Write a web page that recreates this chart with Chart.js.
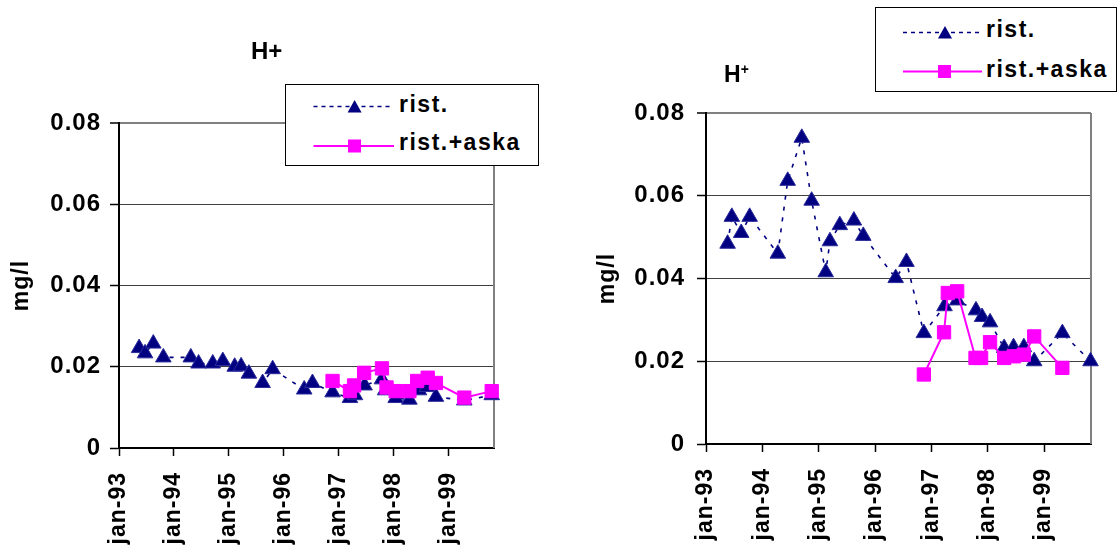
<!DOCTYPE html>
<html><head><meta charset="utf-8">
<script src="https://cdn.jsdelivr.net/npm/chart.js@4.4.1/dist/chart.umd.min.js"></script>
<style>
html,body{margin:0;padding:0;background:#fff;}
body{width:1118px;height:545px;position:relative;overflow:hidden;font-family:"Liberation Sans",Arial,sans-serif;}
canvas{position:absolute;top:0;}
.title{position:absolute;font-weight:bold;line-height:1;color:#000;white-space:nowrap;}
.legend{position:absolute;border:1px solid #000;background:#fff;box-sizing:border-box;}
.legend svg{position:absolute;left:0;top:0;overflow:visible;}
.lt{position:absolute;font-weight:bold;font-size:23px;line-height:23px;letter-spacing:1.5px;white-space:nowrap;color:#000;}
</style></head>
<body>
<canvas id="c1" width="559" height="545" style="left:0;width:559px;height:545px"></canvas>
<canvas id="c2" width="559" height="545" style="left:559px;width:559px;height:545px"></canvas>

<div class="title" style="left:251px;top:39px;font-size:24px;">H+</div>
<div class="title" style="left:724px;top:63px;font-size:23px;">H<span style="font-size:14px;position:relative;top:-8px;">+</span></div>

<div class="legend" style="left:285px;top:84px;width:254px;height:82px;">
  <svg width="254" height="82">
    <line x1="27.5" y1="21.5" x2="106" y2="21.5" stroke="#000080" stroke-width="1.5" stroke-dasharray="4 4"/>
    <polygon points="68.6,15 75.6,27.5 61.6,27.5" fill="#000080"/>
    <line x1="27.5" y1="61" x2="108" y2="61" stroke="#ff00ff" stroke-width="2"/>
    <rect x="62" y="54.5" width="13" height="13" fill="#ff00ff"/>
  </svg>
  <span class="lt" style="left:113px;top:7.8px;" id="l1a"></span>
  <span class="lt" style="left:113px;top:46.2px;" id="l1b"></span>
</div>

<div class="legend" style="left:875px;top:7px;width:242px;height:85px;">
  <svg width="242" height="85">
    <line x1="27" y1="24.5" x2="104" y2="24.5" stroke="#000080" stroke-width="1.5" stroke-dasharray="4 4"/>
    <polygon points="69,18 76,30.5 62,30.5" fill="#000080"/>
    <line x1="27" y1="63.5" x2="106" y2="63.5" stroke="#ff00ff" stroke-width="2"/>
    <rect x="62" y="57" width="13" height="13" fill="#ff00ff"/>
  </svg>
  <span class="lt" style="left:110px;top:9.8px;" id="l2a"></span>
  <span class="lt" style="left:110px;top:49.8px;" id="l2b"></span>
</div>

<script>
// ---- data (x = months since jan-93) ----
const seriesNames = ['rist.', 'rist.+aska'];
const xTickValues = [0, 12, 24, 36, 48, 60, 72];
const xTickLabels = ['jan-93', 'jan-94', 'jan-95', 'jan-96', 'jan-97', 'jan-98', 'jan-99'];
const yTickValues = [0, 0.02, 0.04, 0.06, 0.08];
const yTickLabels = ['0', '0.02', '0.04', '0.06', '0.08'];
const yAxisTitle = 'mg/l';

const leftRistMonths = [4.4, 5.7, 7.5, 9.7, 15.7, 17.4, 20.5, 22.7, 25.3, 26.7, 28.4, 31.4, 33.6, 40.5, 42.3, 46.7, 50.5, 51.6, 53.7, 57.5, 58.2, 60.5, 63.5, 65.6, 67.4, 69.3, 75.5, 81.5];
const leftRistValues = [0.0246, 0.0233, 0.0257, 0.0223, 0.0223, 0.0208, 0.0208, 0.0214, 0.0200, 0.0201, 0.0183, 0.0160, 0.0194, 0.0144, 0.0160, 0.0137, 0.0123, 0.0130, 0.0154, 0.0169, 0.0142, 0.0123, 0.0119, 0.0142, 0.0150, 0.0126, 0.0117, 0.0130];
const leftAskaMonths = [46.7, 50.5, 51.4, 53.6, 57.5, 58.5, 60.5, 63.5, 65.2, 67.5, 69.3, 75.5, 81.5];
const leftAskaValues = [0.0165, 0.0140, 0.0154, 0.0185, 0.0196, 0.0149, 0.0140, 0.0140, 0.0165, 0.0173, 0.0160, 0.0124, 0.0140];

const rightRistMonths = [4.6, 5.5, 7.5, 9.3, 15.3, 17.4, 20.4, 22.5, 25.5, 26.4, 28.5, 31.5, 33.5, 40.4, 42.7, 46.4, 50.8, 53.5, 57.5, 58.8, 60.5, 63.5, 65.5, 67.7, 69.9, 75.9, 81.9];
const rightRistValues = [0.0484, 0.0549, 0.0510, 0.0549, 0.0460, 0.0636, 0.0740, 0.0588, 0.0415, 0.0490, 0.0529, 0.0540, 0.0503, 0.0401, 0.0440, 0.0268, 0.0333, 0.0347, 0.0323, 0.0307, 0.0294, 0.0232, 0.0234, 0.0234, 0.0200, 0.0268, 0.0200];
const rightAskaMonths = [46.4, 50.7, 51.5, 53.5, 57.4, 58.6, 60.5, 63.5, 65.6, 67.7, 69.9, 75.9];
const rightAskaValues = [0.0168, 0.0270, 0.0365, 0.0369, 0.0208, 0.0208, 0.0246, 0.0208, 0.0212, 0.0216, 0.0260, 0.0184];

document.getElementById('l1a').textContent = seriesNames[0];
document.getElementById('l1b').textContent = seriesNames[1];
document.getElementById('l2a').textContent = seriesNames[0];
document.getElementById('l2b').textContent = seriesNames[1];

Chart.defaults.font.family = '"Liberation Sans", Arial, sans-serif';

const pts = (xs, ys) => xs.map((x, i) => ({x: x, y: ys[i]}));

const spacingPlugin = {
  id: 'spacing',
  beforeLayout(c) { c.ctx.letterSpacing = '1px'; },
  beforeDraw(c) { c.ctx.letterSpacing = '1px'; }
};
const framePlugin = {
  id: 'frame',
  beforeDatasetsDraw(c) {
    const ctx = c.ctx, a = c.chartArea;
    ctx.save();
    ctx.strokeStyle = '#808080';
    ctx.lineWidth = 2;
    ctx.beginPath();
    ctx.moveTo(a.right, a.top);
    ctx.lineTo(a.right, a.bottom);
    ctx.stroke();
    ctx.restore();
  }
};

function makeChart(id, rist, aska, g) {
  return new Chart(document.getElementById(id), {
    type: 'line',
    data: {datasets: [
      {label: seriesNames[0], data: rist, order: 2, borderColor: '#000080', borderWidth: 1.6, borderDash: [4, 7],
       pointStyle: 'triangle', pointRadius: 9, pointHoverRadius: 9, pointBackgroundColor: '#000080',
       pointBorderColor: '#2b2b9b', pointBorderWidth: 1, fill: false, tension: 0, clip: false},
      {label: seriesNames[1], data: aska, order: 1, borderColor: '#ff00ff', borderWidth: 2,
       pointStyle: 'rect', pointRadius: 9.4, pointHoverRadius: 9.4, pointBackgroundColor: '#ff00ff',
       pointBorderColor: '#ff00ff', pointBorderWidth: 1, fill: false, tension: 0, clip: false}
    ]},
    options: {
      responsive: false, animation: false,
      layout: {padding: {top: g.top, right: g.right, left: 0, bottom: 0}},
      plugins: {legend: {display: false}, title: {display: false}, tooltip: {enabled: false}},
      events: [],
      scales: {
        x: {
          type: 'linear', min: 0, max: 82,
          afterBuildTicks(s) { s.ticks = xTickValues.map(v => ({value: v})); },
          afterFit(s) { s.height = g.xh; },
          grid: {drawOnChartArea: false, drawTicks: true, tickLength: 8, tickColor: '#000', tickWidth: 1.5},
          border: {color: '#000', width: 2},
          ticks: {autoSkip: false, minRotation: 90, maxRotation: 90, padding: 16, color: '#000',
                  font: {size: 23, weight: 'bold'},
                  callback: v => xTickLabels[xTickValues.indexOf(v)]}
        },
        y: {
          min: 0, max: 0.08,
          afterBuildTicks(s) { s.ticks = yTickValues.map(v => ({value: v})); },
          afterFit(s) { s.width = g.yw; },
          grid: {
            color: c => (c.tick && c.tick.value === 0.08) ? '#808080' : '#404040',
            lineWidth: c => (c.tick && c.tick.value === 0.08) ? 2 : 1,
            tickLength: 9, tickColor: '#000', tickWidth: 1.5
          },
          border: {color: '#000', width: 2},
          ticks: {padding: g.ypad, color: '#000', font: {size: 24, weight: 'bold'},
                  callback: v => yTickLabels[yTickValues.indexOf(v)]},
          title: {display: true, text: yAxisTitle, color: '#000', font: {size: 23, weight: 'bold'},
                  padding: {top: g.tpad, bottom: 0}}
        }
      }
    },
    plugins: [spacingPlugin, framePlugin]
  });
}

makeChart('c1', pts(leftRistMonths, leftRistValues), pts(leftAskaMonths, leftAskaValues),
  {top: 123, right: 65, xh: 97, yw: 119, ypad: 9, tpad: 7.5});
makeChart('c2', pts(rightRistMonths, rightRistValues), pts(rightAskaMonths, rightAskaValues),
  {top: 113, right: 27, xh: 101, yw: 147, ypad: 12, tpad: 35});
</script>
</body></html>
